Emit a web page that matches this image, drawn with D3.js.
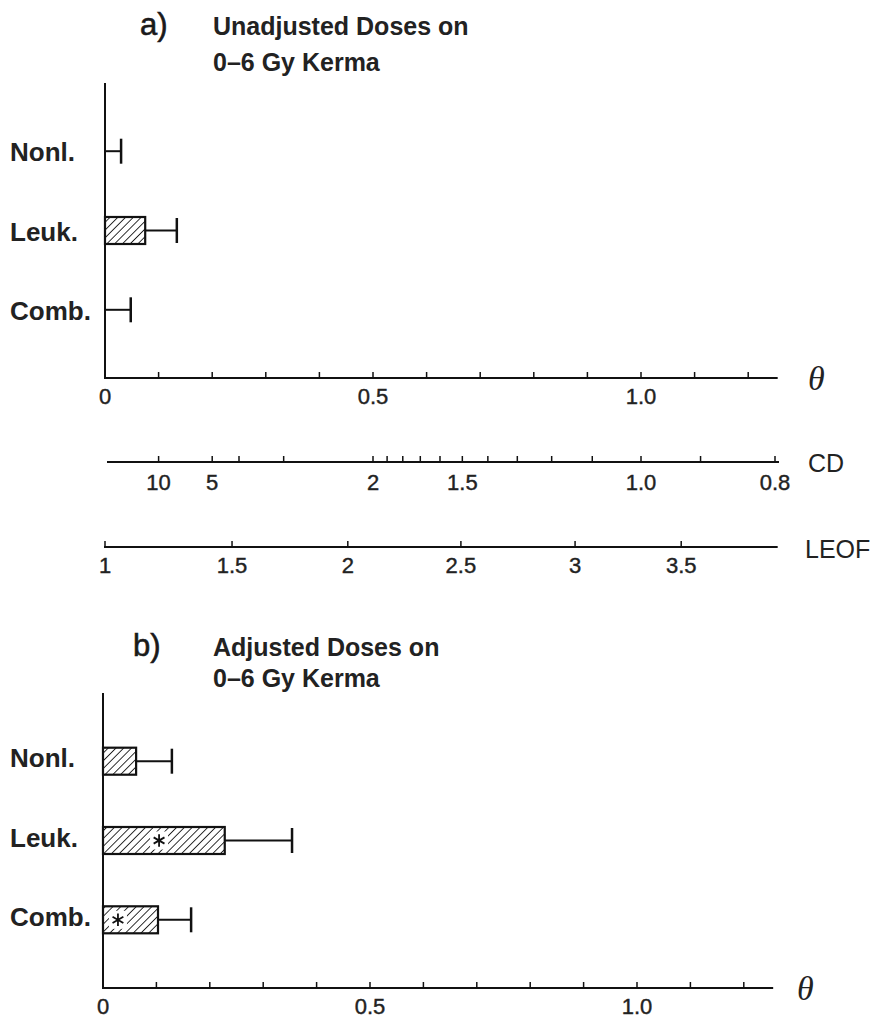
<!DOCTYPE html>
<html>
<head>
<meta charset="utf-8">
<script src="https://cdn.jsdelivr.net/npm/d3@7"></script>
<style>
  body { margin: 0; background: #fff; }
  svg { display: block; font-family: "Liberation Sans", Arial, sans-serif; }
</style>
</head>
<body>
<svg id="chart" width="885" height="1018"></svg>
<script>
// categories and values (theta estimates with upper bounds)
const categories = ["Nonl.", "Leuk.", "Comb."];
const unadjEst = [0, 0.075, 0];
const unadjUpper = [0.03, 0.134, 0.048];
const adjEst = [0.062, 0.228, 0.103];
const adjUpper = [0.129, 0.354, 0.165];
const adjStar = [null, 0.105, 0.028];   // where the * sits, on the theta scale

const thetaTicks = [0.1, 0.2, 0.3, 0.4, 0.5, 0.6, 0.7, 0.8, 0.9, 1.0, 1.1, 1.2];
const thetaLabels = [0, 0.5, 1.0];
const cdTicks = [10, 5, 4, 3, 2, 1.9, 1.8, 1.7, 1.6, 1.5, 1.4, 1.3, 1.2, 1.1, 1.0, 0.9, 0.8];
const cdLabels = [10, 5, 2, 1.5, 1.0, 0.8];
const leofTicks = [1, 1.5, 2, 2.5, 3, 3.5];
const leofTheta = [0, 0.237, 0.453, 0.664, 0.877, 1.075];

const svg = d3.select("#chart");
svg.append("rect").attr("width", 885).attr("height", 1018).attr("fill", "#fff");

// hatch fill
svg.append("defs").append("pattern")
    .attr("id", "hatch")
    .attr("patternUnits", "userSpaceOnUse")
    .attr("width", 5.5).attr("height", 5.5)
    .attr("patternTransform", "rotate(45)")
    .append("line")
    .attr("x1", 0).attr("y1", 0).attr("x2", 0).attr("y2", 5.5)
    .attr("stroke", "#1a1a1a").attr("stroke-width", 1.8);

const fmt = d => d === 0 ? "0" : d3.format(".1f")(d);
const star = d3.symbol().type(d3.symbolAsterisk || d3.symbolTimes).size(110);

function drawPanel(p) {
    var x = d3.scaleLinear().domain([0, 1]).range([p.x0, p.x1]);
    var y = d3.scalePoint().domain(categories).range([p.yTop, p.yBottom]).padding(0.86);
    var g = svg.append("g");

    g.append("text").attr("x", p.letterX).attr("y", p.titleY)
        .attr("font-size", 31).attr("fill", "#1a1a1a")
        .attr("stroke", "#1a1a1a").attr("stroke-width", 0.6).text(p.letter);
    p.title.forEach((t, i) => {
        g.append("text").attr("x", 213).attr("y", p.titleY + i * p.titleGap)
            .attr("font-size", 25).attr("font-weight", "bold").attr("fill", "#222").text(t);
    });

    // axes
    g.append("line").attr("x1", x(0)).attr("x2", x(0))
        .attr("y1", p.yTop).attr("y2", p.yBottom)
        .attr("stroke", "#111").attr("stroke-width", 2);
    g.append("line").attr("x1", x(0) - 1).attr("x2", x(1.255))
        .attr("y1", p.yBottom).attr("y2", p.yBottom)
        .attr("stroke", "#111").attr("stroke-width", 2);
    g.selectAll(".tk").data(thetaTicks).join("line")
        .attr("x1", d => x(d)).attr("x2", d => x(d))
        .attr("y1", p.yBottom).attr("y2", p.yBottom - 6)
        .attr("stroke", "#111").attr("stroke-width", 1.5);
    g.selectAll(".tl").data(thetaLabels).join("text")
        .attr("x", d => x(d)).attr("y", p.yBottom + 26)
        .attr("text-anchor", "middle").attr("font-size", 22).attr("fill", "#222")
        .attr("stroke", "#222").attr("stroke-width", 0.4)
        .text(fmt);
    g.append("text").attr("x", p.thetaX).attr("y", p.yBottom + 12)
        .attr("font-family", "'Liberation Serif', serif").attr("font-style", "italic")
        .attr("font-size", 34).attr("fill", "#222").text("θ");

    // category labels
    g.selectAll(".cl").data(categories).join("text")
        .attr("x", 10).attr("y", d => y(d) + p.labelDy)
        .attr("font-size", 26).attr("font-weight", "bold").attr("fill", "#222")
        .text(d => d);

    // bars
    categories.forEach((c, i) => {
        var cy = y(c), h = 27;
        if (p.est[i] > 0) {
            g.append("rect").attr("x", x(0)).attr("y", cy - h / 2)
                .attr("width", x(p.est[i]) - x(0)).attr("height", h)
                .attr("fill", "url(#hatch)").attr("stroke", "#111").attr("stroke-width", 2.2);
        }
        g.append("line").attr("x1", x(p.est[i])).attr("x2", x(p.upper[i]))
            .attr("y1", cy).attr("y2", cy).attr("stroke", "#111").attr("stroke-width", 2);
        g.append("line").attr("x1", x(p.upper[i])).attr("x2", x(p.upper[i]))
            .attr("y1", cy - 12.5).attr("y2", cy + 12.5).attr("stroke", "#111").attr("stroke-width", 2.5);
        if (p.star && p.star[i] != null) {
            g.append("rect").attr("x", x(p.star[i]) - 9).attr("y", cy - 9)
                .attr("width", 18).attr("height", 18).attr("fill", "#fff");
            g.append("path").attr("d", star)
                .attr("transform", "translate(" + x(p.star[i]) + "," + cy + ")")
                .attr("fill", "none").attr("stroke", "#111").attr("stroke-width", 1.8);
        }
    });
    return x;
}

var xa = drawPanel({
    letter: "a)", letterX: 140, titleY: 35, titleGap: 36,
    title: ["Unadjusted Doses on", "0\u20136 Gy Kerma"],
    x0: 105, x1: 641, yTop: 83, yBottom: 378, thetaX: 808, labelDy: 10,
    est: unadjEst, upper: unadjUpper
});

// CD scale (CD = 1/theta)
var cdY = 462;
svg.append("line").attr("x1", 107).attr("x2", xa(1 / 0.8) + 4)
    .attr("y1", cdY).attr("y2", cdY).attr("stroke", "#111").attr("stroke-width", 2);
svg.selectAll(".cdt").data(cdTicks).join("line")
    .attr("x1", d => xa(1 / d)).attr("x2", d => xa(1 / d))
    .attr("y1", cdY).attr("y2", cdY - 6).attr("stroke", "#111").attr("stroke-width", 1.5);
svg.selectAll(".cdl").data(cdLabels).join("text")
    .attr("x", d => xa(1 / d)).attr("y", cdY + 28)
    .attr("text-anchor", "middle").attr("font-size", 22).attr("fill", "#222")
    .attr("stroke", "#222").attr("stroke-width", 0.4)
    .text(d => d >= 2 && d % 1 === 0 ? d : d3.format(".1f")(d));
svg.append("text").attr("x", 808).attr("y", 472)
    .attr("font-size", 25).attr("fill", "#222").text("CD");

// LEOF scale
var leof = d3.scaleLinear().domain(leofTicks).range(leofTheta.map(xa));
var leY = 547;
svg.append("line").attr("x1", leof(1) - 1).attr("x2", xa(1.255))
    .attr("y1", leY).attr("y2", leY).attr("stroke", "#111").attr("stroke-width", 2);
svg.selectAll(".lt").data(leofTicks).join("line")
    .attr("x1", d => leof(d)).attr("x2", d => leof(d))
    .attr("y1", leY).attr("y2", leY - 6).attr("stroke", "#111").attr("stroke-width", 1.5);
svg.selectAll(".ll").data(leofTicks).join("text")
    .attr("x", d => leof(d)).attr("y", leY + 26)
    .attr("text-anchor", "middle").attr("font-size", 22).attr("fill", "#222")
    .attr("stroke", "#222").attr("stroke-width", 0.4)
    .text(d => d);
svg.append("text").attr("x", 805).attr("y", 558)
    .attr("font-size", 25).attr("fill", "#222").text("LEOF");

drawPanel({
    letter: "b)", letterX: 133, titleY: 656, titleGap: 31,
    title: ["Adjusted Doses on", "0\u20136 Gy Kerma"],
    x0: 103, x1: 637, yTop: 693, yBottom: 988, thetaX: 797, labelDy: 6,
    est: adjEst, upper: adjUpper, star: adjStar
});
</script>
</body>
</html>
